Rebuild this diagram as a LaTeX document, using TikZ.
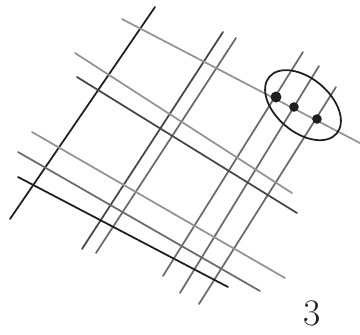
\documentclass[tikz,border=0pt]{standalone}
\usepackage[dvipsnames]{xcolor}
\usepackage{tikz}
\usepackage{tkz-euclide}
\colorlet{inkdark}{black!88}
\colorlet{inkmid}{black!72}
\colorlet{inkgrey}{black!58}
\colorlet{inklight}{black!42}
\tikzset{pen/.style={line width=1.5pt,line cap=round}}

\begin{document}
\begin{tikzpicture}[scale=0.03]
  \useasboundingbox (0,0) rectangle (360,335);
  % strokes rising to the right
  \tkzDefPoint(10,116){A1}  \tkzDefPoint(155,328){B1}
  \tkzDefPoint(82,86){A2}   \tkzDefPoint(223,303){B2}
  \tkzDefPoint(96,82){A3}   \tkzDefPoint(236,297){B3}
  \tkzDefPoint(163,59){A4}  \tkzDefPoint(303,283){B4}
  \tkzDefPoint(180,42){A5}  \tkzDefPoint(319,269){B5}
  \tkzDefPoint(199,31){A6}  \tkzDefPoint(336,248){B6}
  \tkzDrawSegment[pen,color=inkdark](A1,B1)
  \tkzDrawSegment[pen,color=inkmid](A2,B2)
  \tkzDrawSegment[pen,color=inkgrey](A3,B3)
  \tkzDrawSegment[pen,color=inkgrey](A4,B4)
  \tkzDrawSegment[pen,color=inkgrey](A5,B5)
  \tkzDrawSegment[pen,color=inkgrey](A6,B6)
  % strokes falling to the right
  \tkzDefPoint(122,316){P1} \tkzDefPoint(360,192){Q1}
  \tkzDefPoint(75,282){P2}  \tkzDefPoint(292,142){Q2}
  \tkzDefPoint(77,258){P3}  \tkzDefPoint(297,122){Q3}
  \tkzDefPoint(32,203){P4}  \tkzDefPoint(285,57){Q4}
  \tkzDefPoint(18,183){P5}  \tkzDefPoint(260,44){Q5}
  \tkzDefPoint(18,158){P6}  \tkzDefPoint(228,48){Q6}
  \tkzDrawSegment[pen,color=inklight](P1,Q1)
  \tkzDrawSegment[pen,color=inklight](P2,Q2)
  \tkzDrawSegment[pen,color=inkmid](P3,Q3)
  \tkzDrawSegment[pen,color=inklight](P4,Q4)
  \tkzDrawSegment[pen,color=inkgrey](P5,Q5)
  \tkzDrawSegment[pen,color=inkdark](P6,Q6)
  % loop round the three crossings
  \tkzDefPoint(299,230){E}
  \tkzDefPoint(276,238){D1}
  \tkzDefPoint(294,228){D2}
  \tkzDefPoint(317,216){D3}
  \draw[pen,color=inkdark,rotate around={-40:(E)}] (E) ellipse (44 and 27);
  \fill[inkdark] (D1) circle (5.5);
  \fill[inkdark] (D2) circle (4.8);
  \fill[inkdark] (D3) circle (4.8);
  \node[font=\fontsize{32}{32}\selectfont,text=inkdark,inner sep=0pt,anchor=south] (num) at (312,9) {3};
\end{tikzpicture}
\end{document}
